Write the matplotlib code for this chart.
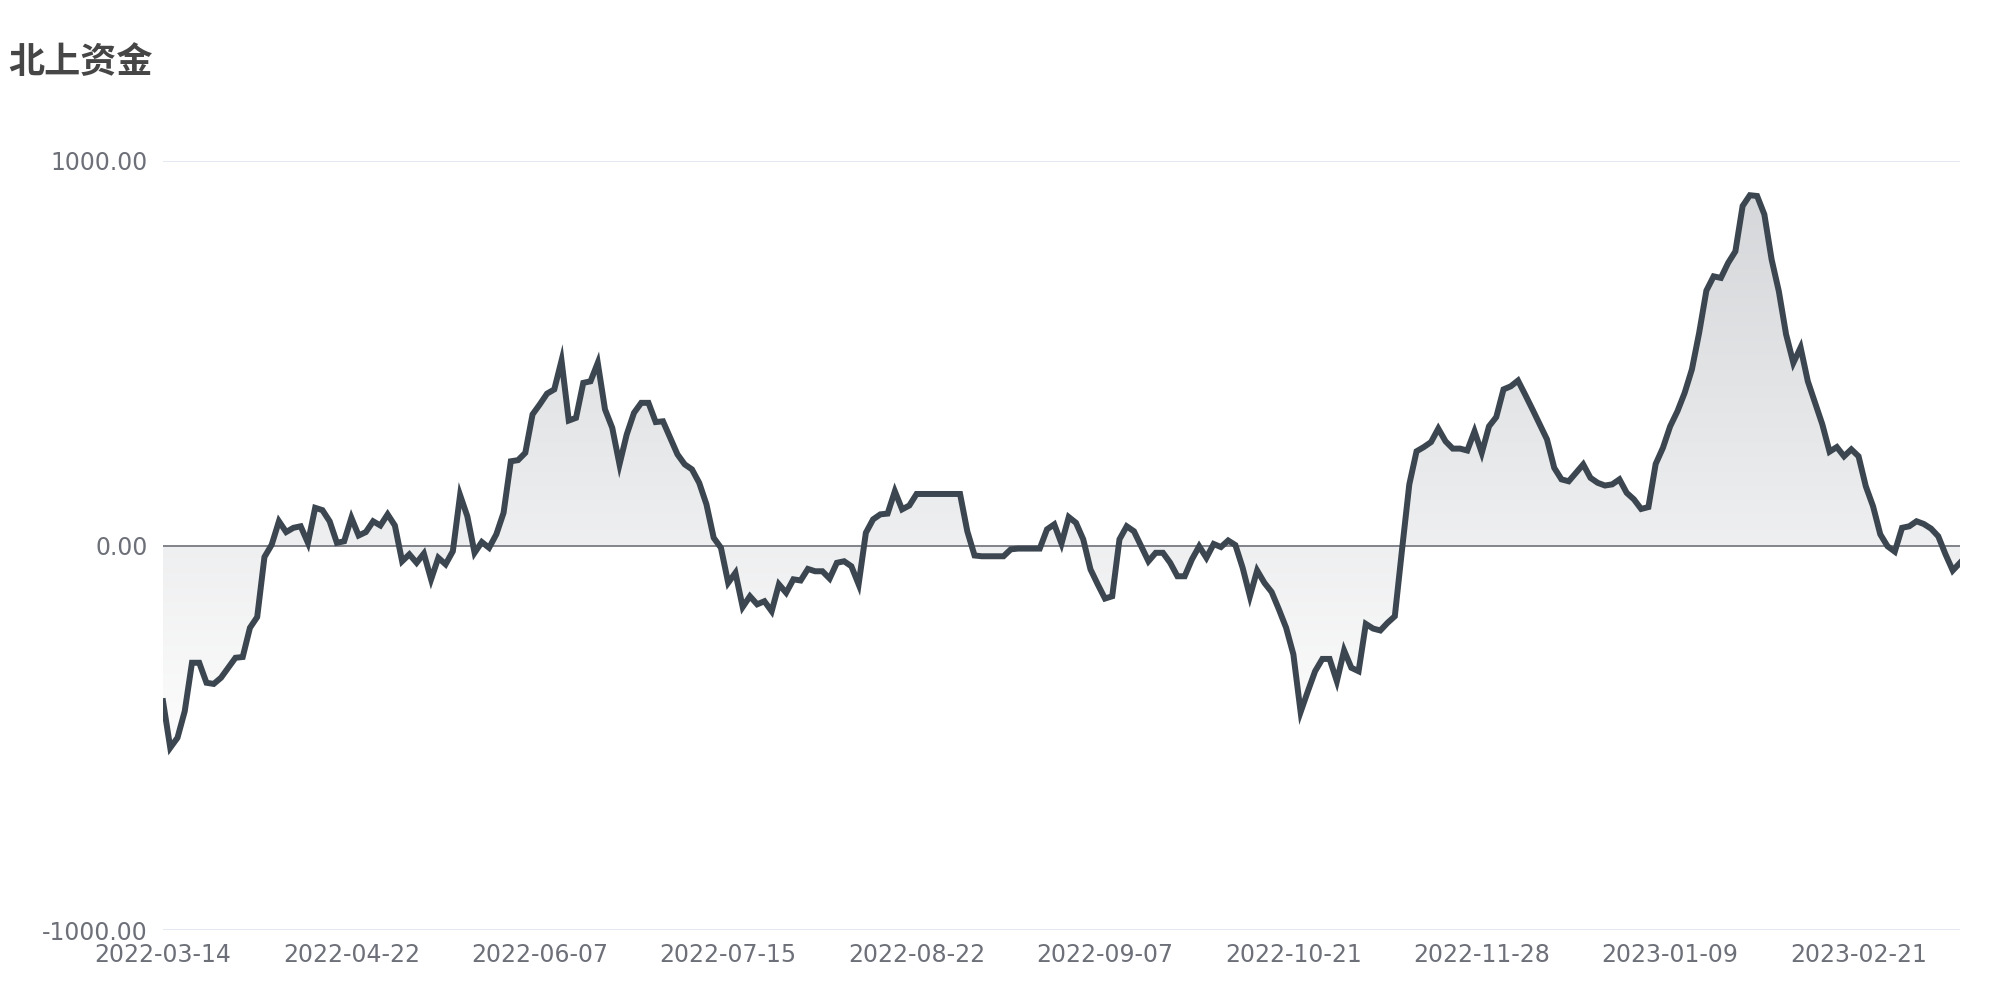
import numpy as np
import matplotlib
matplotlib.use("Agg")
import matplotlib.pyplot as plt
from matplotlib.colors import LinearSegmentedColormap
from matplotlib.patches import Polygon

# 北上资金 series (one value per trading day)
values = [
    -405, -526, -500, -431, -305, -305, -357, -360, -344, -318,
    -292, -290, -214, -186, -30, 2, 63, 35, 46, 50,
    7, 98, 92, 63, 7, 11, 72, 26, 35, 63,
    52, 81, 52, -41, -23, -45, -21, -88, -32, -49,
    -15, 131, 76, -19, 9, -6, 29, 85, 219, 222,
    241, 341, 367, 395, 406, 481, 325, 332, 423, 427,
    475, 354, 306, 211, 289, 345, 371, 371, 321, 323,
    280, 237, 211, 198, 163, 107, 20, -6, -97, -71,
    -160, -132, -153, -145, -171, -101, -123, -88, -91, -61,
    -67, -67, -86, -45, -41, -54, -101, 33, 68, 81,
    83, 141, 94, 104, 134, 134, 134, 134, 134, 134,
    134, 37, -26, -28, -28, -28, -28, -10, -8, -8,
    -8, -8, 42, 55, 5, 74, 59, 16, -62, -101,
    -138, -132, 16, 50, 37, -2, -41, -19, -19, -45,
    -80, -80, -36, -2, -32, 4, -4, 13, 1, -58,
    -132, -65, -97, -121, -166, -214, -283, -433, -379, -327,
    -295, -295, -353, -273, -318, -327, -204, -216, -221, -201,
    -184, -10, 159, 245, 256, 269, 304, 271, 252, 252,
    247, 297, 241, 310, 334, 406, 414, 429, 392, 354,
    315, 276, 202, 172, 167, 189, 211, 176, 163, 156,
    159, 172, 137, 120, 95, 100, 212, 254, 310, 349,
    397, 458, 553, 663, 700, 696, 735, 765, 883, 911,
    909, 861, 744, 661, 549, 475, 515, 427, 371, 315,
    244, 256, 232, 250, 232, 154, 102, 29, -2, -16,
    46, 50, 63, 56, 44, 24, -23, -65, -45,
]

tick_labels = ["2022-03-14", "2022-04-22", "2022-06-07", "2022-07-15", "2022-08-22",
               "2022-09-07", "2022-10-21", "2022-11-28", "2023-01-09", "2023-02-21"]
label_every = 26

y_ticks = [-1000, 0, 1000]
title = "北上资金"

x = np.arange(len(values))
vals = np.array(values, dtype=float)

fig = plt.figure(figsize=(20, 10), dpi=100)
ax = fig.add_axes([0.0815, 0.07, 0.8985, 0.769])

# gradient fill between line and zero
grad_cmap = LinearSegmentedColormap.from_list("g", ["#fdfdfd", "#d5d7da"])
ymin, ymax = vals.min(), vals.max()
grad = np.linspace(0, 1, 256).reshape(-1, 1)
im = ax.imshow(grad, extent=[x[0], x[-1], ymin, ymax], origin="lower",
               aspect="auto", cmap=grad_cmap, zorder=1)
verts = [(x[0], 0)] + list(zip(x, vals)) + [(x[-1], 0)]
clip = Polygon(verts, closed=True, facecolor="none", edgecolor="none")
ax.add_patch(clip)
im.set_clip_path(clip)

# grid lines and zero axis line
for yv in y_ticks:
    if yv == 0:
        ax.axhline(yv, color="#6e7079", lw=1.2, zorder=2)
    else:
        ax.axhline(yv, color="#e0e6f1", lw=1.3, zorder=0)

ax.plot(x, vals, color="#3c4650", lw=4.3, zorder=3, solid_joinstyle="miter")

ax.set_xlim(x[0], x[-1])
ax.set_ylim(-1000, 1000)

ax.set_yticks(y_ticks)
ax.set_yticklabels([f"{v:.2f}" for v in y_ticks])
ax.set_xticks(x[::label_every][:len(tick_labels)])
ax.set_xticklabels(tick_labels)
ax.tick_params(axis="both", length=0, labelsize=17, labelcolor="#6e7079")
ax.tick_params(axis="x", pad=9)
ax.tick_params(axis="y", pad=11)
for s in ax.spines.values():
    s.set_visible(False)

fig.text(0.004, 0.937, title, fontsize=26, fontweight="bold", color="#464646",
         family=["Noto Sans CJK SC", "DejaVu Sans"], va="center", ha="left")

fig.savefig("out.png", dpi=100, facecolor="white")
